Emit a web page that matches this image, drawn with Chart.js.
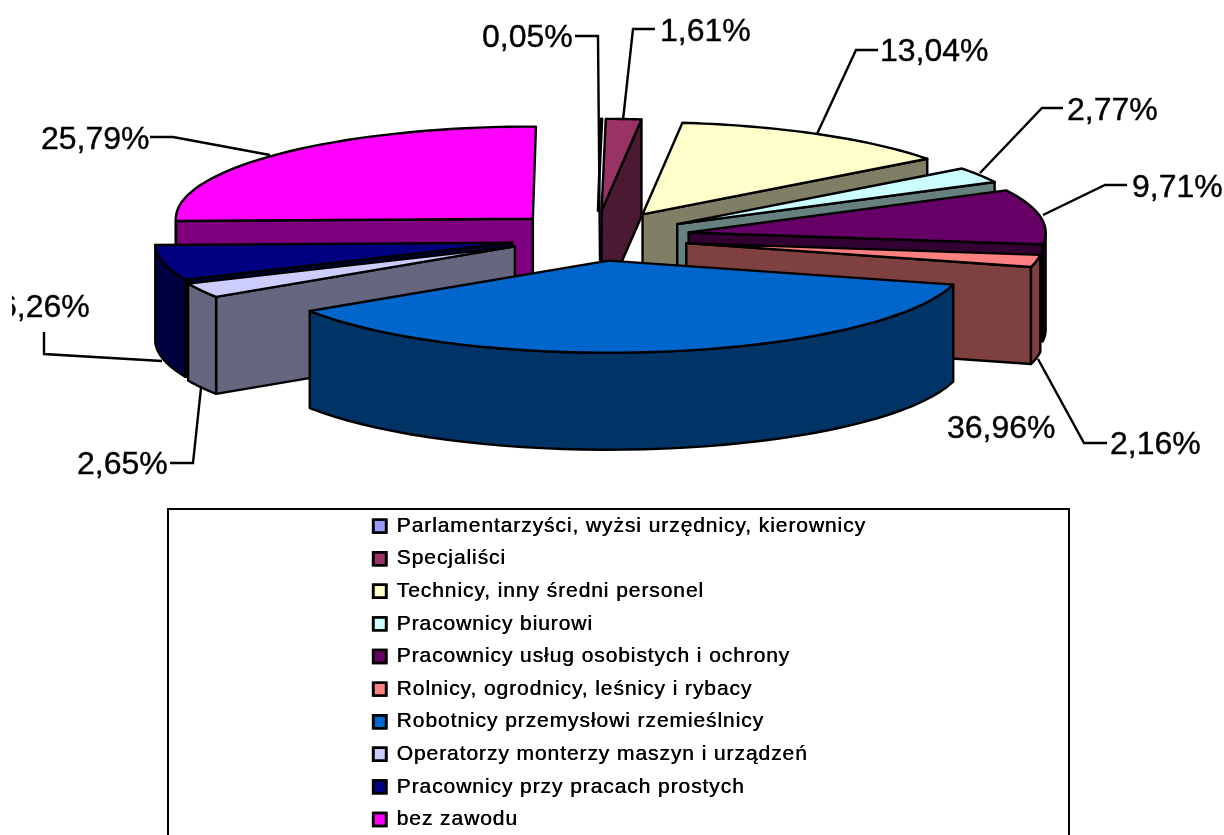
<!DOCTYPE html>
<html>
<head>
<meta charset="utf-8">
<script src="https://cdn.jsdelivr.net/npm/chart.js@4"></script>
<style>
  body { margin: 0; background: #fff; overflow: hidden; }
  canvas { display: block; }
</style>
</head>
<body>
<canvas id="occupationChart" width="1224" height="835"></canvas>
<script>
'use strict'
{
  const categories = [
    'Parlamentarzyści, wyżsi urzędnicy, kierownicy',
    'Specjaliści',
    'Technicy, inny średni personel',
    'Pracownicy biurowi',
    'Pracownicy usług osobistych i ochrony',
    'Rolnicy, ogrodnicy, leśnicy i rybacy',
    'Robotnicy przemysłowi rzemieślnicy',
    'Operatorzy monterzy maszyn i urządzeń',
    'Pracownicy przy pracach prostych',
    'bez zawodu',
  ];
  const shares = [0.05, 1.61, 13.04, 2.77, 9.71, 2.16, 36.96, 2.65, 6.26, 25.79];
  const colors = ['#9999FF', '#993366', '#FFFFCC', '#CCFFFF', '#660066', '#FF8080', '#0066CC', '#CCCCFF', '#000080', '#FF00FF'];

  // how far each slice is pulled out of the pie, plus a small hand correction
  const explode = [90, 90, 90, 90, 90, 90, 86, 90, 90, 90];
  const nudgeX = [-3, -4, -2, 1, 0, -2, -5, -6, 0, -3];
  const nudgeY = [0, 0, 0, 1, 0, 1, -1, -3, 0, 0];
  // back slices first, the big front slice last
  const drawOrder = [1, 0, 2, 3, 4, 5, 9, 8, 7, 6];

  const FONT = '"Liberation Sans", Arial, sans-serif';
  const PIE_X = 600, PIE_Y = 237, RADIUS = 357;
  const SQUASH = 0.258, EXPLODE_TILT = 0.29, DEPTH = 97, LINE = 2.4;

  // label text position and leader line, one entry per slice
  const labelX = [482, 660, 880, 1067, 1132, 1110, 947, 77, -1, 41];
  const labelY = [47, 41, 61, 120, 197, 454, 438, 474, 317, 149];
  const leaders = [
    [[575, 36], [598, 36], [600, 261]],
    [[655, 29], [633, 29], [623, 120]],
    [[878, 50], [856, 50], [817, 134]],
    [[1063, 108], [1042, 108], [980, 173]],
    [[1127, 185], [1105, 185], [1043, 215]],
    [[1107, 443], [1084, 443], [1038, 359]],
    [],
    [[170, 463], [193, 463], [201, 388]],
    [[44, 332], [44, 354], [162, 361]],
    [[150, 137], [173, 137], [270, 155]],
  ];

  const halfShade = (hex) => {
    const n = parseInt(hex.slice(1), 16);
    return `rgb(${(n >> 16) >> 1},${((n >> 8) & 255) >> 1},${(n & 255) >> 1})`;
  };

  const tracePath = (ctx, pts) => {
    ctx.beginPath();
    pts.forEach((p, i) => (i ? ctx.lineTo(p[0], p[1]) : ctx.moveTo(p[0], p[1])));
    ctx.closePath();
  };

  const paint = (ctx, pts, fill) => {
    tracePath(ctx, pts);
    ctx.fillStyle = fill;
    ctx.fill();
    ctx.stroke();
  };

  const drawSlice = (ctx, el, i) => {
    const mid = (el.startAngle + el.endAngle) / 2;
    const ox = el.x + Math.cos(mid) * explode[i] + nudgeX[i];
    const oy = el.y + Math.sin(mid) * explode[i] * EXPLODE_TILT + nudgeY[i];
    const rim = (a, z) => [ox + Math.cos(a) * el.outerRadius, oy + Math.sin(a) * el.outerRadius * SQUASH + z];
    const side = halfShade(colors[i]);

    ctx.strokeStyle = '#000';
    ctx.lineWidth = LINE;
    ctx.lineJoin = 'round';

    // radial walls, only the ones turned to the viewer (edge-on ones are skipped)
    [[el.startAngle, Math.cos(el.startAngle) < -0.02], [el.endAngle, Math.cos(el.endAngle) > 0.02]].forEach(([a, front]) => {
      if (front) paint(ctx, [[ox, oy], rim(a, 0), rim(a, DEPTH), [ox, oy + DEPTH]], side);
    });

    // outer wall on the front half of the rim
    const from = Math.max(el.startAngle, 0), to = Math.min(el.endAngle, Math.PI);
    if (to > from) {
      const upper = [], lower = [];
      for (let k = 0; k <= 40; k++) {
        const a = from + (to - from) * k / 40;
        upper.push(rim(a, 0));
        lower.unshift(rim(a, DEPTH));
      }
      paint(ctx, upper.concat(lower), side);
    }

    // top face, drawn by the arc element itself
    ctx.save();
    ctx.translate(ox, oy);
    ctx.scale(1, SQUASH);
    ctx.translate(-el.x, -el.y);
    el.draw(ctx);
    ctx.restore();

    const outline = [[ox, oy]];
    for (let k = 0; k <= 40; k++) {
      outline.push(rim(el.startAngle + (el.endAngle - el.startAngle) * k / 40, 0));
    }
    ctx.strokeStyle = '#000';
    ctx.lineWidth = LINE;
    tracePath(ctx, outline);
    ctx.stroke();
  };

  const pie3d = {
    id: 'pie3d',
    afterLayout(chart) {
      const legend = chart.legend;
      legend.left = 361.4;
      legend.top = 504;
      legend.right = 1069;
      legend.bottom = 870;
    },
    beforeDraw(chart) {
      const ctx = chart.ctx;
      ctx.strokeStyle = '#000';
      ctx.lineWidth = 2;
      ctx.strokeRect(168, 509, 901, 340);
      // the legend is drawn next: wider and a little heavier, as in the source
      ctx.letterSpacing = '0.92px';
      ctx.shadowColor = '#000';
      ctx.shadowOffsetX = 0.5;
    },
    beforeDatasetsDraw(chart) {
      const ctx = chart.ctx;
      ctx.letterSpacing = '0px';
      ctx.shadowColor = 'transparent';
      ctx.shadowOffsetX = 0;
      const arcs = chart.getDatasetMeta(0).data;
      ctx.save();
      drawOrder.forEach((i) => drawSlice(ctx, arcs[i], i));
      ctx.restore();

      ctx.save();
      ctx.strokeStyle = '#000';
      ctx.lineWidth = LINE;
      leaders.forEach((line) => {
        if (!line.length) return;
        ctx.beginPath();
        line.forEach((p, i) => (i ? ctx.lineTo(p[0], p[1]) : ctx.moveTo(p[0], p[1])));
        ctx.stroke();
      });
      ctx.fillStyle = '#000';
      ctx.font = `32px ${FONT}`;
      ctx.lineWidth = 0.4;
      shares.forEach((v, i) => {
        ctx.save();
        if (labelX[i] < 0) {
          // the source picture cuts this label off at its left side
          ctx.beginPath();
          ctx.rect(12, 0, 1212, 835);
          ctx.clip();
        }
        const text = v.toFixed(2).replace('.', ',') + '%';
        ctx.fillText(text, labelX[i], labelY[i]);
        ctx.strokeText(text, labelX[i], labelY[i]);
        ctx.restore();
      });
      ctx.restore();
      return false;
    },
  };

  new Chart(document.getElementById('occupationChart').getContext('2d'), {
    type: 'pie',
    data: {
      labels: categories,
      datasets: [{
        data: shares,
        backgroundColor: colors,
        borderWidth: 0,
      }],
    },
    options: {
      responsive: false,
      animation: false,
      radius: RADIUS,
      rotation: 0.5,
      layout: { padding: { right: 1224 - 2 * PIE_X, bottom: 835 - 2 * PIE_Y } },
      plugins: {
        tooltip: { enabled: false },
        legend: {
          position: 'chartArea',
          align: 'start',
          labels: {
            color: '#000',
            font: { family: FONT, size: 21 },
            boxWidth: 13,
            boxHeight: 13,
            padding: 11.6,
            generateLabels(chart) {
              return Chart.overrides.doughnut.plugins.legend.labels.generateLabels(chart)
                .map((item) => Object.assign(item, { strokeStyle: '#000', lineWidth: 2.4 }));
            },
          },
        },
      },
    },
    plugins: [pie3d],
  });
}
</script>
</body>
</html>
